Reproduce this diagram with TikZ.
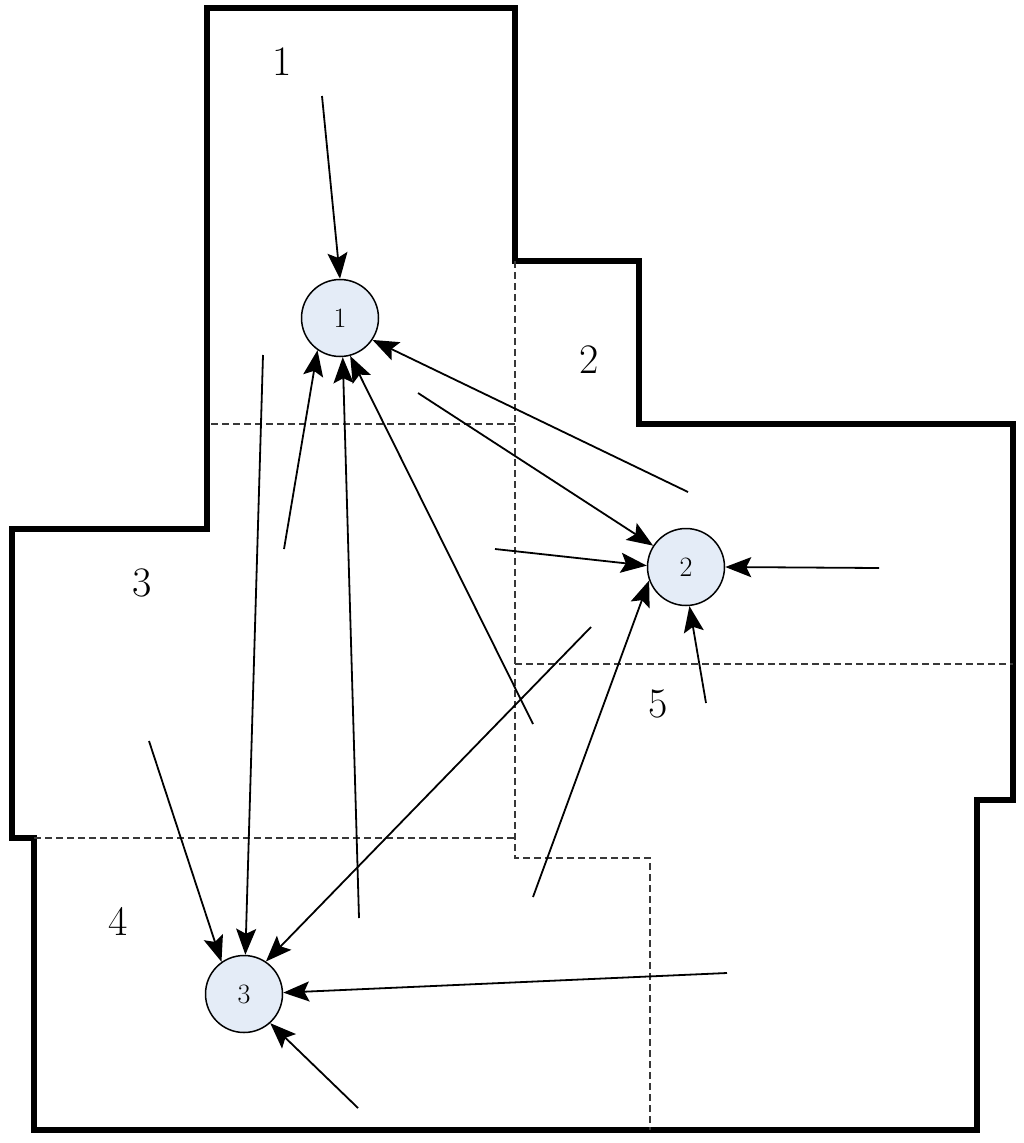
\documentclass[tikz,border=0pt]{standalone}
\usepackage{xcolor}
\usetikzlibrary{arrows.meta}
\newcommand{\planwidth}{1024}
\newcommand{\planheight}{1143}
\definecolor{nodefill}{HTML}{E4ECF7}
\definecolor{wallcolor}{HTML}{000000}
\definecolor{splitcolor}{HTML}{383838}

\begin{document}
\begin{tikzpicture}[x=1pt, y=-1pt,
    wall/.style={wallcolor, line width=6pt, line join=miter},
    split/.style={splitcolor, line width=1.6pt, dash pattern=on 7pt off 4pt},
    station/.style={circle, draw=black, line width=1.5pt, fill=nodefill, minimum size=77pt, inner sep=0pt, font=\fontsize{28}{30}\selectfont},
    zonelabel/.style={font=\fontsize{42}{46}\selectfont},
    link/.style={line width=1.8pt, -{Stealth[length=26pt, width=20pt, inset=5pt]}}]
  \useasboundingbox (0,0) rectangle (\planwidth, \planheight);

  % === OUTLINE ===
  \draw[wall] (207,8) -- (515,8) -- (515,261) -- (639,261) -- (639,424) -- (1013,424)
    -- (1013,800) -- (977,800) -- (977,1130) -- (34,1130) -- (34,838) -- (12,838)
    -- (12,529) -- (207,529) -- cycle;

  % === ZONE SPLITS ===
  \draw[split] (515,261) -- (515,858) -- (650,858) -- (650,1130);
  \draw[split] (211,424) -- (515,424);
  \draw[split] (34,838) -- (515,838);
  \draw[split] (515,664) -- (1013,664);

  % === ZONE LABELS ===
  \node[zonelabel] (z1) at (282,62) {1};
  \node[zonelabel] (z2) at (589,360) {2};
  \node[zonelabel] (z3) at (142,583) {3};
  \node[zonelabel] (z4) at (118,921) {4};
  \node[zonelabel] (z5) at (658,704) {5};

  % === STATIONS ===
  \node[station] (s1) at (340,318) {1};
  \node[station] (s2) at (686,567) {2};
  \node[station] (s3) at (244,994) {3};

  % free ends of the links
  \coordinate (a1) at (322,96);
  \coordinate (a2) at (263,355);
  \coordinate (a3) at (284,549);
  \coordinate (a4) at (359,918);
  \coordinate (a5) at (533,724);
  \coordinate (a6) at (688,492);
  \coordinate (b1) at (418,393);
  \coordinate (b2) at (495,549);
  \coordinate (b3) at (879,568);
  \coordinate (b4) at (706,703);
  \coordinate (b5) at (533,897);
  \coordinate (c1) at (591,627);
  \coordinate (c2) at (149,741);
  \coordinate (c3) at (727,973);
  \coordinate (c4) at (358,1108);

  % === LINKS ===
  \draw[link] (a1) -- (s1.north);
  \draw[link] (a3) -- (s1.235);
  \draw[link] (a4) -- (s1.274);
  \draw[link] (a5) -- (s1.285);
  \draw[link] (a6) -- (s1.326);

  \draw[link] (b1) -- (s2.147);
  \draw[link] (b2) -- (s2.178);
  \draw[link] (b3) -- (s2.east);
  \draw[link] (b4) -- (s2.275);
  \draw[link] (b5) -- (s2.200);

  \draw[link] (a2) -- (s3.88);
  \draw[link] (c1) -- (s3.56);
  \draw[link] (c2) -- (s3.125);
  \draw[link] (c3) -- (s3.2);
  \draw[link] (c4) -- (s3.312);
\end{tikzpicture}
\end{document}
